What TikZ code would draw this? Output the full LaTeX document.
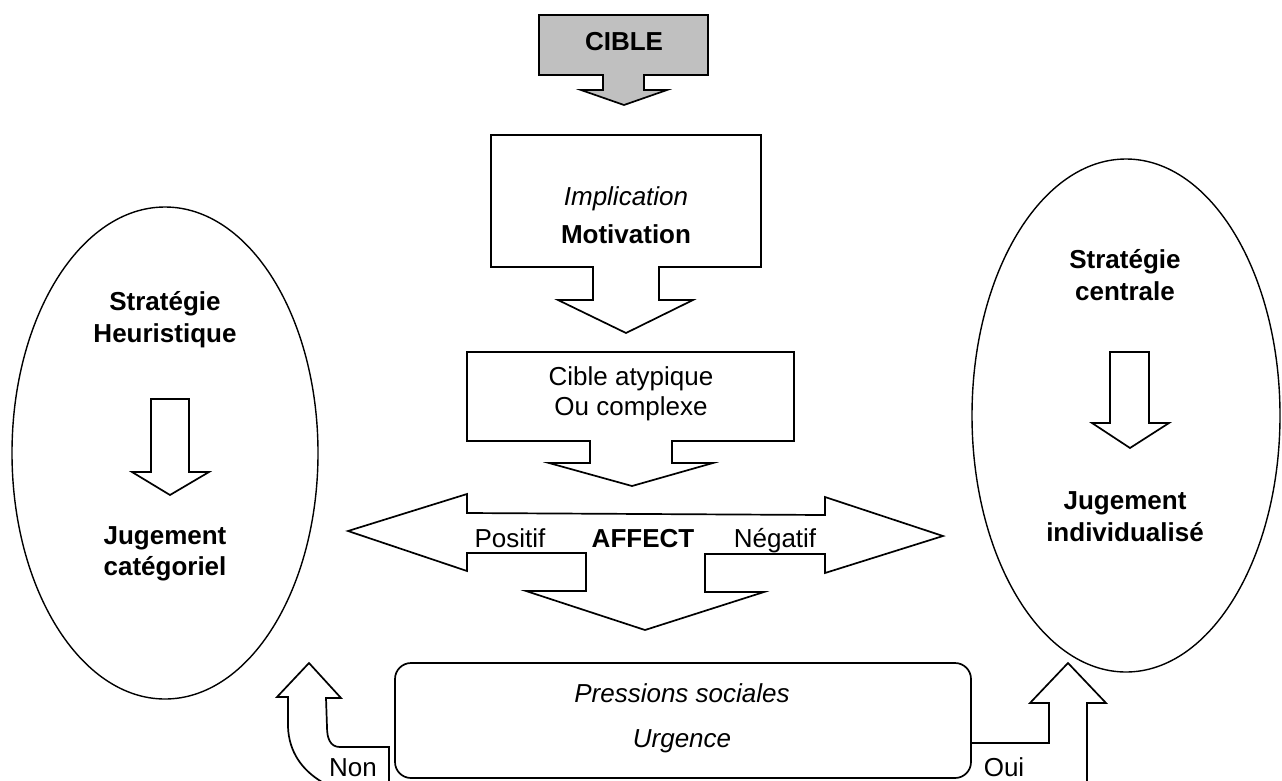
\documentclass[tikz,border=0pt]{standalone}
\usepackage{fontspec}
\setmainfont{Liberation Sans}
\definecolor{cibgray}{HTML}{C0C0C0}
\begin{document}
\begin{tikzpicture}[x=1pt,y=-1pt,
  shapeline/.style={draw=black, line width=1.7pt, line join=miter},
  ovalline/.style={draw=black, line width=1.4pt},
  txt/.style={font=\fontsize{26}{31}\selectfont, align=center, inner sep=0pt}]
\useasboundingbox[fill=white] (0,0) rectangle (1282,780);

% CIBLE callout
\filldraw[shapeline, fill=cibgray] (539,15) -- (708,15) -- (708,75) -- (644,75) -- (644,90) -- (667,90) -- (624,105) -- (581,90) -- (603,90) -- (603,75) -- (539,75) -- cycle;
\node[txt] (cible) at (624,42) {\bfseries CIBLE};

% Implication / Motivation callout
\draw[shapeline] (491,135) -- (761,135) -- (761,267) -- (659,267) -- (659,300) -- (693,300) -- (626,333) -- (558,300) -- (593,300) -- (593,267) -- (491,267) -- cycle;
\node[txt, font=\fontsize{26}{38}\selectfont] (impl) at (626,215) {\textit{Implication}\\\textbf{Motivation}};

% Cible atypique callout
\draw[shapeline] (467,352) -- (794,352) -- (794,441) -- (672,441) -- (672,463) -- (713,463) -- (632,486) -- (549,463) -- (590,463) -- (590,441) -- (467,441) -- cycle;
\node[txt, font=\fontsize{26}{30}\selectfont] (atyp) at (631,394) {Cible atypique\\Ou complexe};

% AFFECT three-way arrow
\draw[shapeline] (348,531) -- (467,494) -- (467,513) -- (825,515) -- (825,497) -- (943,536) -- (825,573) -- (825,554) -- (705,554) -- (705,592) -- (764,592) -- (645,630) -- (526,591) -- (586,591) -- (586,553) -- (467,553) -- (467,571) -- cycle;
\node[txt, anchor=base] (pos) at (510,547) {Positif};
\node[txt, anchor=base] (aff) at (643,547) {\bfseries AFFECT};
\node[txt, anchor=base] (neg) at (775,547) {N\'egatif};

% Left ellipse
\draw[ovalline] (165,453) ellipse [x radius=153, y radius=246];
\node[txt, font=\fontsize{26}{32}\selectfont] (heur) at (165,320) {\bfseries Strat\'egie\\\bfseries Heuristique};
\draw[shapeline] (151,399) -- (189,399) -- (189,472) -- (209,472) -- (170,495) -- (132,472) -- (151,472) -- cycle;
\node[txt, font=\fontsize{26}{31}\selectfont] (jcat) at (165,554) {\bfseries Jugement\\\bfseries cat\'egoriel};

% Right ellipse
\draw[ovalline] (1126,415.5) ellipse [x radius=154, y radius=256.5];
\node[txt, font=\fontsize{26}{32}\selectfont] (cent) at (1125,275) {\bfseries Strat\'egie\\\bfseries centrale};
\draw[shapeline] (1110,352) -- (1149,352) -- (1149,423) -- (1169,423) -- (1130,448) -- (1092,423) -- (1110,423) -- cycle;
\node[txt, font=\fontsize{26}{32}\selectfont] (jind) at (1125,517) {\bfseries Jugement\\\bfseries individualis\'e};

% Pressions sociales box
\draw[shapeline, rounded corners=16pt] (395,663) rectangle (971,778);
\node[txt, font=\fontsize{26}{45}\selectfont] (press) at (682,718) {\textit{Pressions sociales}\\\textit{Urgence}};

% Non arrow (curved up)
\draw[shapeline] (389,782) -- (389,747) -- (340,747) .. controls (330,747) and (327,738) .. (327,727) -- (326,698) -- (341,698) -- (309,663) -- (277,697) -- (288,697) -- (288,727) .. controls (289,752) and (302,770) .. (322,782);
\node[txt, anchor=base] (non) at (353,776) {Non};

% Oui arrow
\draw[shapeline] (971,743) -- (1049,743) -- (1049,703) -- (1030,703) -- (1068,663) -- (1106,703) -- (1087,703) -- (1087,782);
\node[txt, anchor=base] (oui) at (1004,776) {Oui};
\end{tikzpicture}
\end{document}
